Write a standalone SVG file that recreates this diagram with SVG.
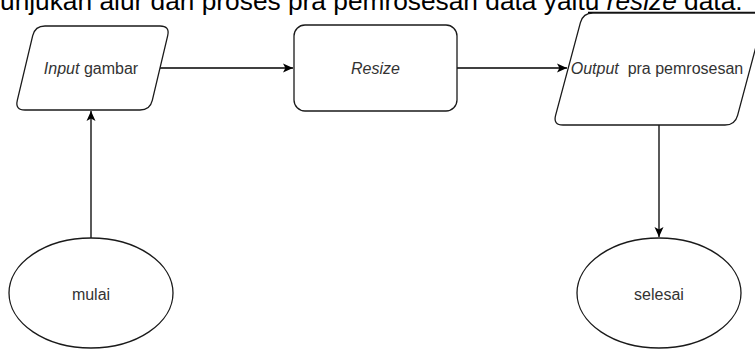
<svg xmlns="http://www.w3.org/2000/svg" width="755" height="350" viewBox="0 0 755 350">
<style>
.shape{fill:#fff;stroke:#1a1a1a;stroke-width:1.3}
.lbl{font-family:"Liberation Sans",Arial,sans-serif;font-size:16px;fill:#333;text-anchor:middle}
.it{font-style:italic}
.conn{fill:none;stroke:#000;stroke-width:1.3}
.head{font-family:"Liberation Sans",Arial,sans-serif;font-size:26.3px;fill:#000}
</style>
<defs>
<marker id="arr" markerWidth="11" markerHeight="11" refX="10" refY="5.5" orient="auto" markerUnits="userSpaceOnUse">
<path d="M0,1 L10,5.5 L0,10 L2.4,5.5 Z" fill="#000"/>
</marker>
</defs>
<rect width="755" height="350" fill="#fff"/>
<text class="head" x="0" y="10">unjukan alur dari proses pra pemrosesan data yaitu <tspan font-style="italic">resize</tspan> data.</text>
<line x1="588" y1="12.5" x2="755" y2="12.5" stroke="#000" stroke-width="1.3"/>
<g id="connectors">
<line class="conn" x1="91" y1="238" x2="91" y2="111" marker-end="url(#arr)"/>
<line class="conn" x1="160" y1="68" x2="293" y2="68" marker-end="url(#arr)"/>
<line class="conn" x1="457" y1="68" x2="567" y2="68" marker-end="url(#arr)"/>
<line class="conn" x1="659" y1="125" x2="659" y2="237" marker-end="url(#arr)"/>
</g>
<g id="input">
<path class="shape" d="M45 26 L160 26 Q170 26 167.7 35.7 L152.3 100.3 Q150 110 140 110 L25 110 Q15 110 17.3 100.3 L32.7 35.7 Q35 26 45 26 Z"/>
<text class="lbl" x="91" y="74"><tspan class="it">Input</tspan> gambar</text>
</g>
<g id="resize">
<rect class="shape" x="294" y="25" width="163" height="86" rx="11"/>
<text class="lbl" x="375.5" y="74"><tspan class="it">Resize</tspan></text>
</g>
<g id="output">
<path class="shape" d="M593 13 L755 13 Q765 13 762.4 22.7 L737.6 115.3 Q735 125 725 125 L563 125 Q553 125 555.6 115.3 L580.4 22.7 Q583 13 593 13 Z"/>
<text class="lbl" x="657" y="74" xml:space="preserve"><tspan class="it">Output</tspan>  pra pemrosesan</text>
</g>
<g id="mulai">
<ellipse class="shape" cx="91" cy="293" rx="82" ry="55"/>
<text class="lbl" x="91" y="300">mulai</text>
</g>
<g id="selesai">
<ellipse class="shape" cx="659" cy="293" rx="82" ry="55"/>
<text class="lbl" x="659" y="300">selesai</text>
</g>
</svg>
